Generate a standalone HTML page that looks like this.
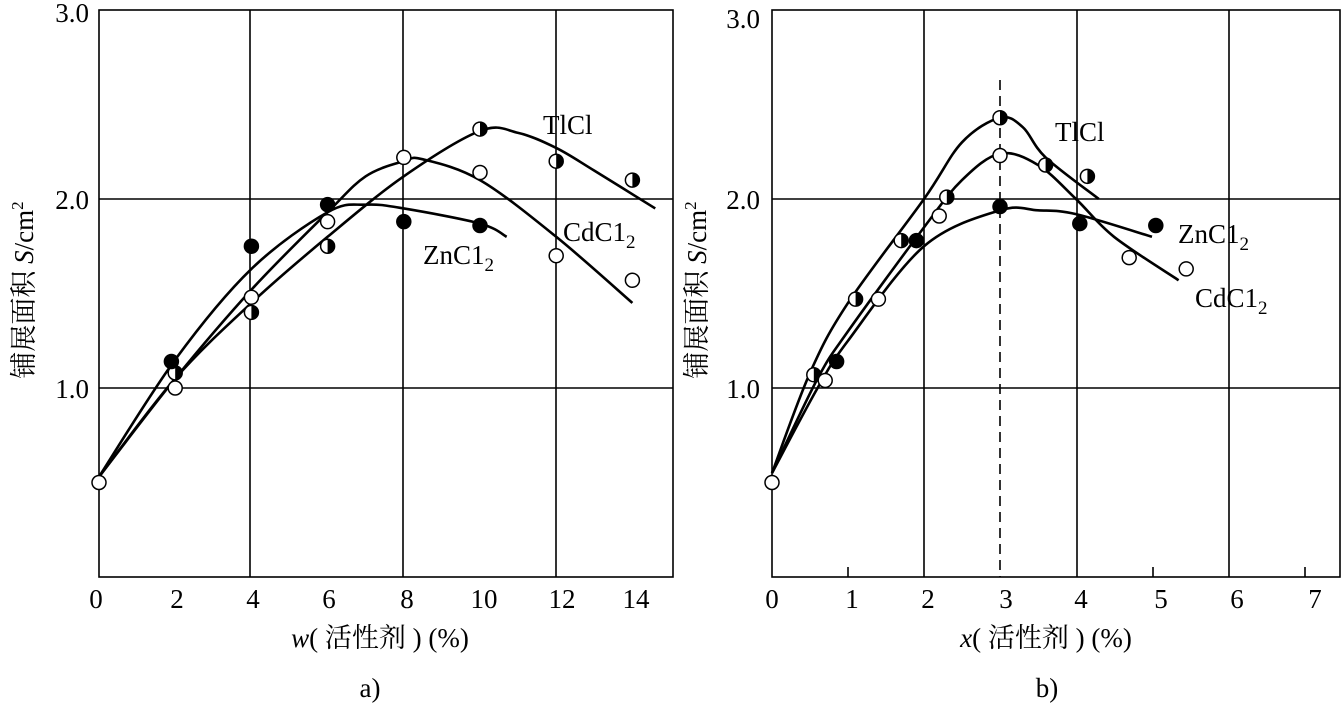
<!DOCTYPE html>
<html><head><meta charset="utf-8"><style>
html,body{margin:0;padding:0;background:#fff;}
svg{display:block}
text{font-family:"Liberation Serif","Noto Serif CJK SC",serif;fill:#000}
</style></head><body>
<svg id="s" width="1343" height="706" viewBox="0 0 1343 706" xmlns="http://www.w3.org/2000/svg">
<g stroke="#000" stroke-width="1.6" fill="none">
<rect x="99" y="10" width="574" height="567"/>
<line x1="250" y1="10" x2="250" y2="577"/><line x1="403" y1="10" x2="403" y2="577"/><line x1="556" y1="10" x2="556" y2="577"/>
<line x1="99" y1="199" x2="673" y2="199"/><line x1="99" y1="388" x2="673" y2="388"/>
<rect x="772" y="10" width="568" height="567"/>
<line x1="924" y1="10" x2="924" y2="577"/><line x1="1077" y1="10" x2="1077" y2="577"/><line x1="1229" y1="10" x2="1229" y2="577"/>
<line x1="772" y1="199" x2="1340" y2="199"/><line x1="772" y1="388" x2="1340" y2="388"/>
<line x1="848" y1="567" x2="848" y2="577"/><line x1="1153" y1="567" x2="1153" y2="577"/><line x1="1305" y1="567" x2="1305" y2="577"/>
<line x1="1000" y1="80" x2="1000" y2="577" stroke-dasharray="10,6"/>
</g>
<g id="curves" stroke="#000" stroke-width="2.6" fill="none"></g>
<g id="marks"></g>
<g font-size="27">
<g text-anchor="end">
<text x="89" y="22">3.0</text>
<text x="89" y="209">2.0</text>
<text x="89" y="398">1.0</text>
<text x="760" y="28">3.0</text>
<text x="760" y="209">2.0</text>
<text x="760" y="398">1.0</text>
</g>
<g text-anchor="middle">
<text x="96" y="608">0</text><text x="177" y="608">2</text><text x="253" y="608">4</text><text x="329" y="608">6</text><text x="407" y="608">8</text><text x="484" y="608">10</text><text x="562" y="608">12</text><text x="636" y="608">14</text>
<text x="772" y="608">0</text><text x="852" y="608">1</text><text x="928" y="608">2</text><text x="1006" y="608">3</text><text x="1081" y="608">4</text><text x="1161" y="608">5</text><text x="1237" y="608">6</text><text x="1315" y="608">7</text>
</g>
<text x="380" y="647" text-anchor="middle"><tspan font-style="italic">w</tspan>( 活性剂 ) (%)</text>
<text x="1046" y="647" text-anchor="middle"><tspan font-style="italic">x</tspan>( 活性剂 ) (%)</text>
<text x="370" y="697" text-anchor="middle">a)</text>
<text x="1047" y="697" text-anchor="middle">b)</text>
<text transform="translate(33,290) rotate(-90)" text-anchor="middle">铺展面积 <tspan font-style="italic">S</tspan>/cm<tspan font-size="17" dy="-10">2</tspan></text>
<text transform="translate(706,290) rotate(-90)" text-anchor="middle">铺展面积 <tspan font-style="italic">S</tspan>/cm<tspan font-size="17" dy="-10">2</tspan></text>
<text x="543" y="134">TlCl</text>
<text x="563" y="241">CdC1<tspan font-size="19" dy="7">2</tspan></text>
<text x="423" y="264">ZnC1<tspan font-size="19" dy="7">2</tspan></text>
<text x="1055" y="141">TlCl</text>
<text x="1178" y="243">ZnC1<tspan font-size="19" dy="7">2</tspan></text>
<text x="1195" y="307">CdC1<tspan font-size="19" dy="7">2</tspan></text>
</g>
</svg>
<script>
var NS="http://www.w3.org/2000/svg";
function L(p){return [99+38.1*p[0],577-189*p[1]];}
function R(p){return [772+76*p[0],577-189*p[1]];}
function path(pts,f){
 var P=pts.map(f);var d="M"+P[0][0]+","+P[0][1];
 for(var i=0;i<P.length-1;i++){
  var p0=P[Math.max(i-1,0)],p1=P[i],p2=P[i+1],p3=P[Math.min(i+2,P.length-1)];
  var c1=[p1[0]+(p2[0]-p0[0])/6,p1[1]+(p2[1]-p0[1])/6];
  var c2=[p2[0]-(p3[0]-p1[0])/6,p2[1]-(p3[1]-p1[1])/6];
  d+=" C"+c1+" "+c2+" "+p2;
 }
 var e=document.createElementNS(NS,"path");e.setAttribute("d",d);
 document.getElementById("curves").appendChild(e);
}
path([[0,0.53],[2,1.05],[4,1.45],[6,1.8],[8,2.12],[10,2.36],[11,2.35],[12,2.27],[13,2.15],[14.6,1.95]],L);
path([[0,0.53],[2,1.05],[4,1.52],[6,1.93],[7,2.12],[8,2.2],[8.5,2.21],[10,2.1],[12,1.8],[14,1.45]],L);
path([[0,0.53],[2,1.15],[4,1.63],[6,1.93],[7,1.97],[8,1.95],[10,1.87],[10.7,1.8]],L);
path([[0,0.55],[0.5,1.08],[1,1.45],[2,2.0],[2.5,2.3],[3,2.43],[3.3,2.38],[3.6,2.22],[4.3,2.0]],R);
path([[0,0.55],[0.6,1.05],[1,1.3],[2,1.85],[2.5,2.1],[3,2.24],[3.5,2.18],[4,2.0],[4.5,1.8],[5.35,1.57]],R);
path([[0,0.55],[0.6,1.0],[1,1.25],[2,1.75],[3,1.94],[3.5,1.94],[4,1.92],[5,1.8]],R);
var M=document.getElementById("marks");
function mk(p,f,t){
 var c=f(p),r=7;
 var e=document.createElementNS(NS,"circle");e.setAttribute("cx",c[0]);e.setAttribute("cy",c[1]);e.setAttribute("r",r);
 e.setAttribute("fill",t=="f"?"#000":"#fff");e.setAttribute("stroke","#000");e.setAttribute("stroke-width","1.5");M.appendChild(e);
 if(t=="h"){var h=document.createElementNS(NS,"path");
  h.setAttribute("d","M"+c[0]+","+(c[1]-r)+" A"+r+","+r+" 0 0 1 "+c[0]+","+(c[1]+r)+" Z");h.setAttribute("fill","#000");M.appendChild(h);}
}
[[2,1.08],[4,1.4],[6,1.75],[10,2.37],[12,2.2],[14,2.1]].forEach(function(p){mk(p,L,"h")});
[[0,0.5],[2,1.0],[4,1.48],[6,1.88],[8,2.22],[10,2.14],[12,1.7],[14,1.57]].forEach(function(p){mk(p,L,"o")});
[[1.9,1.14],[4,1.75],[6,1.97],[8,1.88],[10,1.86]].forEach(function(p){mk(p,L,"f")});
[[0.55,1.07],[1.1,1.47],[1.7,1.78],[2.3,2.01],[3,2.43],[3.6,2.18],[4.15,2.12]].forEach(function(p){mk(p,R,"h")});
[[0,0.5],[0.7,1.04],[1.4,1.47],[2.2,1.91],[3,2.23],[4.7,1.69],[5.45,1.63]].forEach(function(p){mk(p,R,"o")});
[[0.85,1.14],[1.9,1.78],[3,1.96],[4.05,1.87],[5.05,1.86]].forEach(function(p){mk(p,R,"f")});
</script>
</body></html>
